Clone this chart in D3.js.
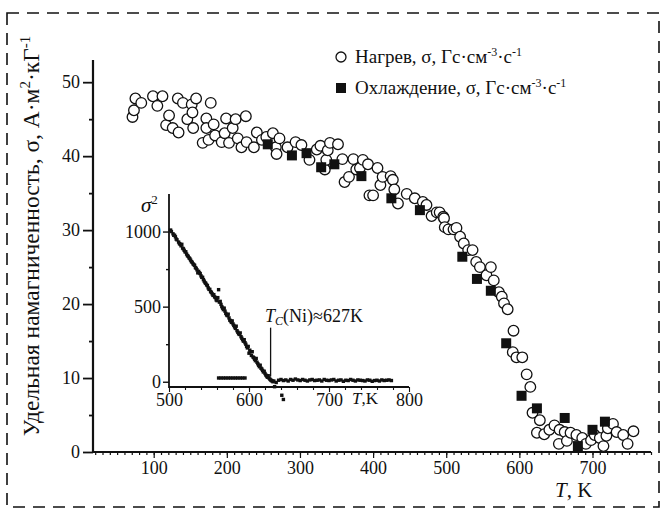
<!DOCTYPE html>
<html><head><meta charset="utf-8">
<script src="https://cdn.jsdelivr.net/npm/d3@7/dist/d3.min.js"></script>
<style>body{margin:0;background:#fff}svg{display:block}</style>
</head><body>
<script>
// Main chart data: heating (circles) and cooling (squares)
const heatT = [71,73,75,83,99,105,112,117,121,126,133,134,140,146,152,153,154,158,167,172,172,175,178,182,184,193,197,199,203,208,212,215,220,226,227,237,241,248,254,263,267,268,272,283,294,302,313,323,328,334,336,338,341,352,358,361,367,373,377,382,386,393,395,400,406,410,413,424,427,429,434,446,457,468,473,480,487,491,496,497,498,503,510,514,519,524,530,536,541,546,555,561,565,572,576,579,584,592,591,596,604,610,615,618,624,628,634,641,648,654,655,662,665,670,678,686,691,698,703,710,715,719,721,728,733,742,748,756];
const heatS = [45.3,46.2,47.8,47.2,48.1,46.8,48.1,44.2,45.5,43.8,47.8,43.2,47.2,45.0,47.0,45.9,43.8,47.8,41.8,45.1,43.8,42.2,47.2,44.3,42.8,41.9,43.1,45.1,41.8,43.8,45.0,42.4,41.2,45.4,41.9,41.2,43.2,42.2,42.6,43.1,41.2,40.3,42.4,41.2,41.9,41.5,39.5,40.9,41.4,38.2,39.5,40.8,41.8,41.6,39.6,36.5,37.2,39.6,38.2,38.4,39.5,38.9,34.7,34.7,38.4,36.1,37.2,37.3,36.8,35.5,33.6,34.9,34.3,33.8,33.4,31.9,32.4,32.4,31.8,31.6,30.4,30.1,30.1,30.3,29.1,28.2,27.3,27.3,25.7,25.0,23.9,25.0,23.2,21.6,21.0,20.1,19.3,16.4,13.5,12.8,12.8,10.5,8.8,5.3,2.6,4.3,2.4,3.0,3.6,1.1,3.0,2.7,1.5,2.6,2.3,1.9,1.1,1.6,2.3,1.9,0.8,2.2,3.2,3.8,2.7,2.3,1.1,2.8];
const coolT = [256,289,309,329,347,384,425,464,522,542,561,582,603,624,662,680,700,717];
const coolS = [41.6,40.1,40.4,38.5,38.9,37.3,34.3,32.7,26.4,23.4,21.8,14.7,7.6,5.9,4.6,0.8,3.0,4.1];
const xTicks = [100,200,300,400,500,600,700];
const yTicks = [0,10,20,30,40,50];
// Inset data: sigma^2 vs T
const insT = [502,503,505,506,508,509,510,512,513,514,515,517,518,519,520,522,523,524,525,527,528,529,530,532,533,534,535,537,538,539,540,542,543,544,545,547,548,549,550,552,553,554,555,557,558,559,560,561,562,563,565,566,567,568,570,571,572,573,575,576,577,578,580,581,582,583,585,586,587,588,590,591,592,593,595,596,597,598,600,601,602,603,605,606,607,608,610,611,612,613,615,616,617,618,620,621,622,623,625,626,627,628,629,630,
  507,516,521,526,531,536,541,546,551,556,564,569,574,579,584,589,594,599,604,609,614,619,624,
  562,565,568,571,574,577,580,583,586,589,592,595,
  631,634,637,640,643,646,649,652,655,658,661,664,667,670,673,676,679,682,685,688,691,694,697,700,703,706,709,712,715,718,721,724,727,730,733,736,739,742,745,748,751,754,757,760,763,766,769,772,775,778,
  632,641,643];
const insS = [1010,1000,985,975,965,950,945,930,920,915,905,890,885,875,865,850,840,835,825,810,800,795,785,775,760,755,745,735,725,720,705,695,680,670,660,645,640,625,615,600,595,585,575,565,560,545,540,560,613,530,515,500,490,480,470,455,445,440,425,410,405,395,385,375,365,355,340,330,320,315,300,290,280,270,260,250,235,225,190,210,200,175,165,160,150,140,130,120,110,100,90,85,75,65,55,45,38,30,25,18,12,8,5,0,
  975,915,865,820,780,725,695,655,615,580,535,490,450,405,370,325,280,235,200,155,110,70,40,
  25,25,25,25,25,25,25,25,25,25,25,25,
  5,-5,10,15,8,12,5,15,10,18,12,8,15,10,5,12,15,8,10,12,5,15,10,8,12,15,5,10,12,3,10,8,15,10,5,12,10,8,5,12,10,3,8,10,5,12,8,10,12,8,
  -33,-90,-118];
const insXTicks = [500,600,700,800];
const insYTicks = [0,500,1000];
const tc = 627;

const FONT = "'Liberation Serif', Tinos, 'Times New Roman', serif";
const W = 663, H = 513;
const svg = d3.select("body").append("svg").attr("width", W).attr("height", H)
  .attr("font-family", FONT).style("font-family", FONT);

// dashed frame
svg.append("rect").attr("x",7).attr("y",13).attr("width",652).attr("height",494)
  .attr("fill","none").attr("stroke","#111").attr("stroke-width",1.6).attr("stroke-dasharray","12,8");

const x = d3.scaleLinear().domain([17,780]).range([93,651]);
const y = d3.scaleLinear().domain([0,53]).range([452,60]);

function fixText(sel, size){ sel.selectAll("text").attr("font-size",size).attr("fill","#111").attr("font-family",FONT); }

// main axes
const gx = svg.append("g").attr("transform","translate(0,452)");
gx.call(d3.axisBottom(x).tickValues(d3.range(20,781,10)).tickSize(3).tickFormat("")).call(g=>g.select(".domain").remove());
gx.append("g").call(d3.axisBottom(x).tickValues(xTicks).tickSize(6).tickPadding(3).tickFormat(d3.format("d")))
  .call(g=>g.select(".domain").remove());
gx.append("line").attr("x1",93).attr("x2",651).attr("stroke","#111").attr("stroke-width",2);
gx.selectAll(".tick line").attr("stroke","#111").attr("stroke-width",1.2);
fixText(gx, 18);

const gy = svg.append("g").attr("transform","translate(93,0)");
gy.call(d3.axisLeft(y).tickValues([5,15,25,35,45]).tickSize(4).tickFormat("")).call(g=>g.select(".domain").remove());
gy.append("g").call(d3.axisLeft(y).tickValues(yTicks).tickSize(10).tickPadding(3).tickFormat(d3.format("d")))
  .call(g=>g.select(".domain").remove());
gy.append("line").attr("y1",60).attr("y2",453).attr("stroke","#111").attr("stroke-width",2.2);
gy.selectAll(".tick line").attr("stroke","#111").attr("stroke-width",1.8);
fixText(gy, 18);

// heating circles
svg.append("g").selectAll("circle").data(heatT.map((t,i)=>[t,heatS[i]])).join("circle")
  .attr("cx",d=>x(d[0])).attr("cy",d=>y(d[1])).attr("r",5.3)
  .attr("fill","#fff").attr("stroke","#111").attr("stroke-width",1.3);
// cooling squares
svg.append("g").selectAll("rect").data(coolT.map((t,i)=>[t,coolS[i]])).join("rect")
  .attr("x",d=>x(d[0])-5).attr("y",d=>y(d[1])-5).attr("width",10).attr("height",10).attr("fill","#111");

// legend
svg.append("circle").attr("cx",341).attr("cy",57).attr("r",5).attr("fill","#fff").attr("stroke","#111").attr("stroke-width",1.3);
svg.append("rect").attr("x",336).attr("y",83).attr("width",10).attr("height",10).attr("fill","#111");
function legText(yy, label){
  const t = svg.append("text").attr("x",355).attr("y",yy).attr("font-size",19).attr("fill","#111");
  t.append("tspan").text(label+", σ, Гс·см");
  t.append("tspan").attr("dy",-7).attr("font-size",12).text("-3");
  t.append("tspan").attr("dy",7).text("·с");
  t.append("tspan").attr("dy",-7).attr("font-size",12).text("-1");
}
legText(63,"Нагрев");
legText(94,"Охлаждение");

// axis titles
const yt = svg.append("text").attr("transform","translate(39,236) rotate(-90)").attr("text-anchor","middle").attr("font-size",23.5).attr("fill","#111");
yt.append("tspan").text("Удельная  намагниченность, σ, А·м");
yt.append("tspan").attr("dy",-9).attr("font-size",15).text("2");
yt.append("tspan").attr("dy",9).text("·кГ");
yt.append("tspan").attr("dy",-9).attr("font-size",15).text("-1");
const xt = svg.append("text").attr("x",555).attr("y",497).attr("font-size",21).attr("fill","#111");
xt.append("tspan").attr("font-style","italic").text("T");
xt.append("tspan").text(", K");

// inset
const ix = d3.scaleLinear().domain([500,800]).range([169,409]);
const iy = d3.scaleLinear().domain([-35,1250]).range([387,194]);
const ig = svg.append("g");
const igx = ig.append("g").attr("transform","translate(0,387)");
igx.call(d3.axisBottom(ix).tickValues(d3.range(520,800,20)).tickSize(3).tickFormat("")).call(g=>g.select(".domain").remove());
igx.append("g").call(d3.axisBottom(ix).tickValues(insXTicks).tickSize(5).tickPadding(1).tickFormat(d3.format("d"))).call(g=>g.select(".domain").remove());
igx.append("line").attr("x1",169).attr("x2",409).attr("stroke","#111").attr("stroke-width",1.8);
igx.selectAll(".tick line").attr("stroke","#111").attr("stroke-width",1.1);
fixText(igx, 18);
const igy = ig.append("g").attr("transform","translate(169,0)");
igy.call(d3.axisLeft(iy).tickValues([250,750]).tickSize(3).tickFormat("")).call(g=>g.select(".domain").remove());
igy.append("g").call(d3.axisLeft(iy).tickValues(insYTicks).tickSize(6).tickPadding(2).tickFormat(d3.format("d"))).call(g=>g.select(".domain").remove());
igy.append("line").attr("y1",194).attr("y2",388).attr("stroke","#111").attr("stroke-width",1.8);
igy.selectAll(".tick line").attr("stroke","#111").attr("stroke-width",1.4);
fixText(igy, 18);

ig.append("g").selectAll("rect").data(insT.map((t,i)=>[t,insS[i]])).join("rect")
  .attr("x",d=>ix(d[0])-1.7).attr("y",d=>iy(d[1])-1.7).attr("width",3.4).attr("height",3.4).attr("fill","#111");

ig.append("line").attr("x1",ix(tc)).attr("x2",ix(tc)).attr("y1",iy(360)).attr("y2",iy(35)).attr("stroke","#111").attr("stroke-width",1.3);
const tct = ig.append("text").attr("x",265).attr("y",322).attr("font-size",18).attr("fill","#111");
tct.append("tspan").attr("font-style","italic").text("T");
tct.append("tspan").attr("font-style","italic").attr("font-size",12).attr("dy",3).text("C");
tct.append("tspan").attr("dy",-3).text("(Ni)≈"+tc+"K");
const s2 = ig.append("text").attr("x",141).attr("y",212).attr("font-size",21).attr("font-style","italic").attr("fill","#111");
s2.append("tspan").text("σ");
s2.append("tspan").attr("dy",-8).attr("font-size",13).attr("font-style","normal").text("2");
const itx = ig.append("text").attr("x",352).attr("y",404).attr("font-size",17).attr("fill","#111");
itx.append("tspan").attr("font-style","italic").text("T");
itx.append("tspan").text(",K");
</script>
</body></html>
